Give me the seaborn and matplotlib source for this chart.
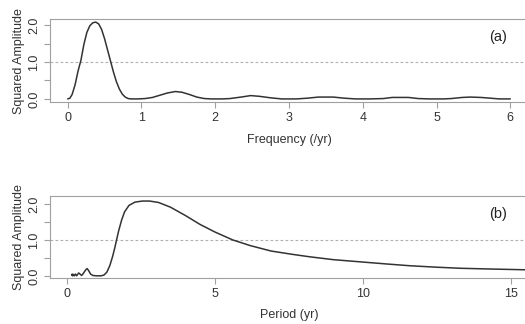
import matplotlib
matplotlib.use("Agg")
import matplotlib.pyplot as plt
import numpy as np
import pandas as pd
import seaborn as sns

sns.set_style("white")
plt.rcParams["font.family"] = ["Liberation Sans", "DejaVu Sans"]

# (a) squared amplitude against frequency
freq = [0.00, 0.03, 0.06, 0.10, 0.14, 0.18, 0.22, 0.26, 0.30, 0.34, 0.38,
        0.42, 0.46, 0.50, 0.54, 0.58, 0.62, 0.66, 0.70, 0.74, 0.78, 0.82,
        0.86, 0.95, 1.05, 1.15, 1.25, 1.35, 1.46, 1.55, 1.65, 1.75, 1.85,
        1.95, 2.10, 2.20, 2.35, 2.48, 2.60, 2.75, 2.90, 3.10, 3.25, 3.40,
        3.50, 3.60, 3.75, 3.90, 4.10, 4.28, 4.40, 4.50, 4.62, 4.75, 4.90,
        5.10, 5.20, 5.35, 5.46, 5.60, 5.73, 5.85, 6.00]
amp_a = [0.00, 0.02, 0.12, 0.38, 0.75, 1.05, 1.48, 1.80, 1.98, 2.06, 2.08,
         2.03, 1.88, 1.63, 1.33, 1.03, 0.73, 0.47, 0.27, 0.13, 0.05, 0.01,
         0.00, 0.00, 0.01, 0.04, 0.10, 0.16, 0.20, 0.18, 0.12, 0.05, 0.01,
         0.00, 0.00, 0.01, 0.05, 0.09, 0.07, 0.03, 0.00, 0.00, 0.02, 0.05,
         0.05, 0.05, 0.02, 0.00, 0.00, 0.01, 0.04, 0.04, 0.04, 0.01, 0.00,
         0.00, 0.01, 0.04, 0.05, 0.04, 0.02, 0.00, 0.00]

# (b) squared amplitude against period
period = [0.17, 0.18, 0.20, 0.22, 0.25, 0.29, 0.33, 0.40, 0.50, 0.55,
          0.60, 0.65, 0.69, 0.74, 0.80, 0.88, 1.00, 1.15, 1.25, 1.35,
          1.45, 1.55, 1.62, 1.68, 1.75, 1.85, 1.95, 2.10, 2.30, 2.55,
          2.80, 3.10, 3.50, 4.00, 4.50, 5.00, 5.60, 6.20, 6.90, 7.60,
          8.20, 9.00, 9.90, 10.80, 11.60, 12.50, 13.30, 14.30, 15.40, 16.00]
amp_b = [0.01, 0.05, 0.00, 0.04, 0.00, 0.05, 0.00, 0.08, 0.01, 0.06,
         0.12, 0.18, 0.20, 0.14, 0.05, 0.01, 0.00, 0.00, 0.02, 0.10,
         0.28, 0.55, 0.78, 1.00, 1.25, 1.55, 1.78, 1.96, 2.05, 2.08,
         2.08, 2.04, 1.91, 1.68, 1.43, 1.22, 1.00, 0.84, 0.69, 0.60,
         0.53, 0.45, 0.39, 0.33, 0.28, 0.24, 0.21, 0.19, 0.17, 0.16]

df_a = pd.DataFrame({"x": freq, "y": amp_a})
df_b = pd.DataFrame({"x": period, "y": amp_b})

fig = plt.figure(figsize=(5.25, 3.24), dpi=100)
ax_a = fig.add_axes([0.0952, 0.685, 0.9105, 0.256])
ax_b = fig.add_axes([0.0952, 0.142, 0.9105, 0.253])

panels = [
    (ax_a, df_a, (-0.24, 6.24), (-0.085, 2.16), [0, 1, 2, 3, 4, 5, 6],
     "Frequency (/yr)", "(a)"),
    (ax_b, df_b, (-0.57, 15.58), (-0.06, 2.22), [0, 5, 10, 15],
     "Period (yr)", "(b)"),
]

grey = "#a0a0a0"
text_col = "#333333"
for ax, d, xlim, ylim, xticks, xlabel, tag in panels:
    ax.axhline(1.0, color="#b0b0b0", lw=0.8, ls=(0, (2.5, 2)), zorder=1)
    sns.lineplot(data=d, x="x", y="y", ax=ax, sort=False, color="#333333",
                 lw=1.1, zorder=3)
    ax.set_xlim(*xlim)
    ax.set_ylim(*ylim)
    ax.set_xticks(xticks)
    ax.set_yticks([0, 0.5, 1.0, 1.5, 2.0])
    ax.set_yticklabels(["0.0", "", "1.0", "", "2.0"], rotation=90, va="center")
    ax.tick_params(axis="both", direction="out", length=4, width=0.8,
                   color=grey, labelsize=9, labelcolor=text_col, pad=3,
                   left=True, bottom=True)
    for s in ax.spines.values():
        s.set_color(grey)
        s.set_linewidth(0.8)
    ax.set_xlabel(xlabel, fontsize=9, color=text_col, labelpad=7)
    ax.set_ylabel("Squared Amplitude", fontsize=9, color=text_col, labelpad=2)
    ax.text(0.937, 0.78, tag, transform=ax.transAxes, fontsize=10.5,
            color="#222222", ha="center", va="center")

fig.savefig("out.png", dpi=100)
